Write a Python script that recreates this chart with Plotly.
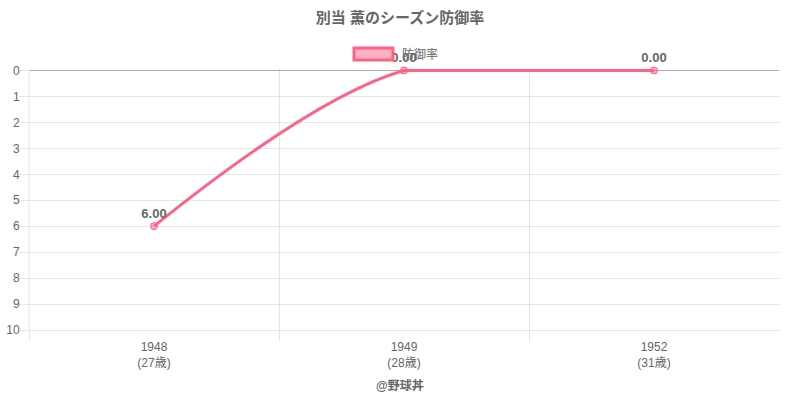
import plotly.graph_objects as go

title = "別当 薫のシーズン防御率"
series_name = "防御率"
years = ["1948", "1949", "1952"]
ages = ["(27歳)", "(28歳)", "(31歳)"]
era = [6.00, 0.00, 0.00]
y_ticks = list(range(0, 11))
footer = "@野球丼"

PINK = "rgb(255,99,132)"
PINK_FILL = "rgba(255,99,132,0.5)"
TXT = "#666666"
GRID = "rgba(0,0,0,0.1)"
FONT = "Liberation Sans, Noto Sans CJK JP, sans-serif"

xs = list(range(len(years)))
ticktext = [f"{y}<br>{a}" for y, a in zip(years, ages)]

fig = go.Figure()
# smooth line through all points
fig.add_trace(go.Scatter(
    x=xs, y=era, mode="lines",
    line=dict(color=PINK, width=3, shape="spline", smoothing=1.0),
    showlegend=False, hoverinfo="skip",
))
# flat tail drawn straight (avoids spline overshoot at the top edge)
fig.add_trace(go.Scatter(
    x=xs[1:], y=era[1:], mode="lines",
    line=dict(color=PINK, width=3),
    showlegend=False, hoverinfo="skip",
))
# points and value labels
fig.add_trace(go.Scatter(
    x=xs, y=era, mode="markers+text",
    marker=dict(size=7, color=PINK_FILL, line=dict(color=PINK, width=1)),
    text=[f"{v:.2f}" for v in era],
    textposition="top center",
    textfont=dict(family=FONT, size=13, color=TXT, weight="bold"),
    cliponaxis=False, showlegend=False, hoverinfo="skip",
))

W, H = 800, 400
L = 29
R = 800 - 779
B = 400 - 330
T = 68.5
pw, ph = W - L - R, H - T - B
unit = (330 - 70) / 10.0
y_top = -(70 - T) / unit

def px_x(p):
    return (p - L) / pw

def px_y(p):
    return (H - B - p) / ph

fig.update_layout(
    width=W, height=H,
    margin=dict(l=L, r=R, t=T, b=B, autoexpand=False),
    paper_bgcolor="white", plot_bgcolor="white",
    font=dict(family=FONT, color=TXT, size=12),
    title=dict(text=f"<b>{title}</b>", x=0.5, xanchor="center", xref="container",
               y=1 - 18 / H, yanchor="middle",
               font=dict(size=15, color=TXT, family=FONT), automargin=False),
    xaxis=dict(
        range=[-0.5, len(years) - 0.5],
        tickmode="array", tickvals=xs, ticktext=ticktext,
        showgrid=False, zeroline=False, ticks="",
        tickfont=dict(size=12, color=TXT), ticklabelstandoff=6,
        showline=True, linecolor=GRID, mirror=False,
        minor=dict(tickmode="array", tickvals=[-0.5, 0.5, 1.5], ticks="outside", ticklen=10,
                   tickcolor=GRID, showgrid=True, gridcolor=GRID, gridwidth=1),
        automargin=False, fixedrange=True,
    ),
    yaxis=dict(
        range=[10, y_top], tickmode="array", tickvals=y_ticks,
        showgrid=True, gridcolor=GRID, gridwidth=1,
        zeroline=False, ticks="outside", ticklen=9, tickcolor=GRID,
        tickfont=dict(size=12, color=TXT), ticklabelstandoff=-3,
        showline=False,
        automargin=False, fixedrange=True,
    ),
    shapes=[
        dict(type="line", xref="paper", yref="y", x0=0, x1=1, y0=0, y1=0,
             line=dict(color="rgba(0,0,0,0.25)", width=1), layer="below"),
        dict(type="line", xref="paper", yref="y", x0=0, x1=0, y0=0, y1=10,
             line=dict(color=GRID, width=1), layer="below"),
        dict(type="rect", xref="paper", yref="paper",
             x0=px_x(354), x1=px_x(393), y0=px_y(59.5), y1=px_y(47.5),
             fillcolor=PINK_FILL, line=dict(color=PINK, width=3)),
    ],
    annotations=[
        dict(text=series_name, xref="paper", yref="paper", x=px_x(400), y=px_y(53.5),
             xanchor="left", yanchor="middle", showarrow=False,
             font=dict(size=12, color=TXT, family=FONT)),
        dict(text=f"<b>{footer}</b>", xref="paper", yref="paper", x=px_x(400), y=px_y(386),
             xanchor="center", yanchor="middle", showarrow=False,
             font=dict(size=12, color=TXT, family=FONT)),
    ],
)

fig.write_html("out.html", config={"displayModeBar": False},
               post_script="document.body.style.margin='0';")
